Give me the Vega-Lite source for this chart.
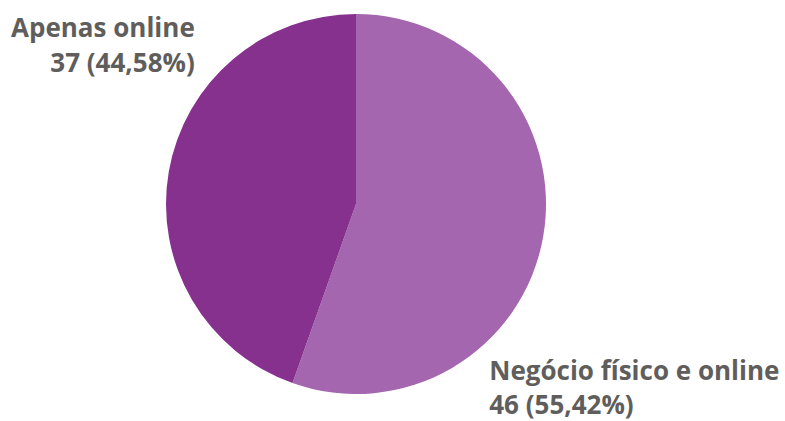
{
  "$schema": "https://vega.github.io/schema/vega-lite/v6.json",
  "autosize": {"type": "none"},
  "width": 712,
  "height": 408,
  "padding": {"left": 0, "top": 0, "right": 73, "bottom": 13},
  "background": "white",
  "data": {"values": [
    {"cat": "Negócio físico e online", "value": 46, "label": "Negócio físico e online\n46 (55,42%)"},
    {"cat": "Apenas online", "value": 37, "label": "Apenas online\n37 (44,58%)"}
  ]},
  "encoding": {
    "theta": {"field": "value", "type": "quantitative", "stack": true},
    "order": {"field": "value", "type": "quantitative", "sort": "descending"}
  },
  "layer": [
    {
      "mark": {"type": "arc", "outerRadius": 190},
      "encoding": {
        "color": {"field": "cat", "type": "nominal", "legend": null,
          "scale": {"domain": ["Negócio físico e online", "Apenas online"], "range": ["#A366AF", "#87318F"]}}
      }
    },
    {
      "mark": {"type": "text", "radius": 190, "align": "left", "baseline": "alphabetic", "dx": -54, "dy": 144,
        "font": "Open Sans", "fontWeight": "bold", "fontSize": 26, "lineBreak": "\n", "lineHeight": 34, "color": "#605E5C"},
      "encoding": {
        "text": {"condition": {"test": "datum.cat === 'Negócio físico e online'", "field": "label"}, "value": ""}
      }
    },
    {
      "mark": {"type": "text", "radius": 190, "align": "right", "baseline": "alphabetic", "dx": 26, "dy": -135,
        "font": "Open Sans", "fontWeight": "bold", "fontSize": 26, "lineBreak": "\n", "lineHeight": 35, "color": "#605E5C"},
      "encoding": {
        "text": {"condition": {"test": "datum.cat === 'Apenas online'", "field": "label"}, "value": ""}
      }
    }
  ]
}
